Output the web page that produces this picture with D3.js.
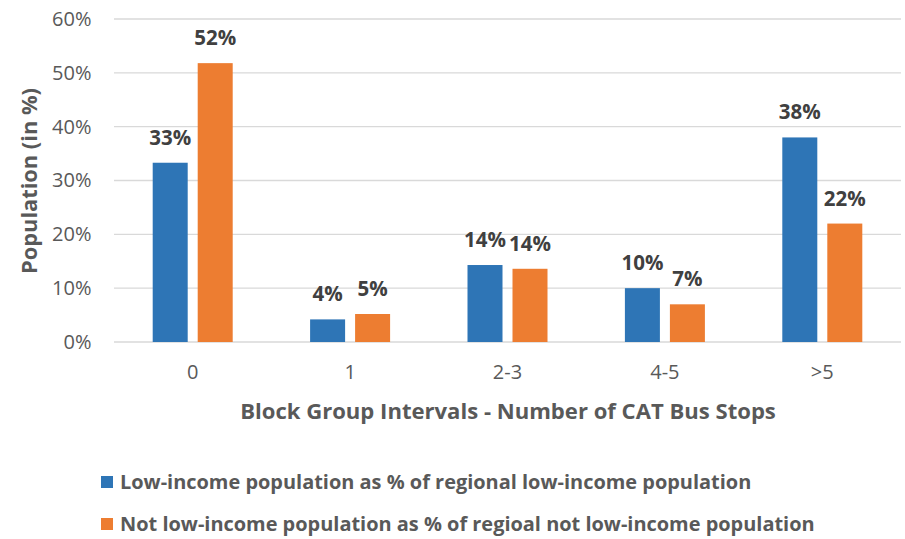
<!DOCTYPE html>
<html>
<head>
<meta charset="utf-8">
<script src="https://cdn.jsdelivr.net/npm/d3@7"></script>
<style>
  html, body { margin: 0; padding: 0; background: #fff; }
  svg { display: block; font-family: "Open Sans", "Noto Sans", sans-serif; }
</style>
</head>
<body>
<svg id="chart" width="905" height="539"></svg>
<script>
const categories = ["0", "1", "2-3", "4-5", ">5"];
const seriesNames = [
  "Low-income population as % of regional low-income population",
  "Not low-income population as % of regioal not low-income population"
];
const lowIncome = [33.3, 4.2, 14.3, 10.0, 38.0];
const notLowIncome = [51.8, 5.2, 13.6, 7.0, 22.0];
const dataLabelsLow = ["33%", "4%", "14%", "10%", "38%"];
const dataLabelsNot = ["52%", "5%", "14%", "7%", "22%"];
const yTicks = [0, 10, 20, 30, 40, 50, 60];
const colors = ["#2e75b6", "#ed7d31"];

const svg = d3.select("#chart");
const mLeft = 114, mRight = 901, mTop = 19, mBottom = 342;

const x0 = d3.scaleBand().domain(categories).range([mLeft, mRight]).paddingInner(0).paddingOuter(0);
const x1 = d3.scaleBand().domain([0, 1]).range([-40, 40]).paddingInner(0.2222).paddingOuter(0);
const y = d3.scaleLinear().domain([0, 60]).range([mBottom, mTop]);

function fit(sel, width) {
  const n = sel.node();
  const fs = parseFloat(sel.attr("font-size"));
  const w = n.getComputedTextLength();
  sel.attr("font-size", (fs * width / w).toFixed(2));
}

// gridlines
svg.append("g").selectAll("line").data(yTicks).join("line")
  .attr("x1", mLeft).attr("x2", mRight)
  .attr("y1", d => y(d)).attr("y2", d => y(d))
  .attr("stroke", "#d9d9d9").attr("stroke-width", 1.3);

// y axis labels
const yAxis = svg.append("g").attr("transform", `translate(${mLeft},0)`)
  .call(d3.axisLeft(y).tickValues(yTicks).tickFormat(d => d + "%").tickSize(0).tickPadding(22.5));
yAxis.select(".domain").remove();
yAxis.selectAll("text").attr("font-size", 20).attr("fill", "#595959")
  .attr("font-family", '"Open Sans", sans-serif');

// x axis labels
const xAxis = svg.append("g").attr("transform", `translate(0,${mBottom})`)
  .call(d3.axisBottom(x0).tickSize(0).tickPadding(23));
xAxis.select(".domain").remove();
xAxis.selectAll("text").attr("font-size", 20).attr("fill", "#595959")
  .attr("font-family", '"Open Sans", sans-serif');

// bars
const seriesVals = [lowIncome, notLowIncome];
const seriesLabels = [dataLabelsLow, dataLabelsNot];
const rows = [];
categories.forEach((c, i) => {
  [0, 1].forEach(s => rows.push({ c, s, v: seriesVals[s][i], lab: seriesLabels[s][i] }));
});
const cx = c => x0(c) + x0.bandwidth() / 2;

svg.append("g").selectAll("rect").data(rows).join("rect")
  .attr("x", d => cx(d.c) + x1(d.s))
  .attr("width", x1.bandwidth())
  .attr("y", d => y(d.v))
  .attr("height", d => y(0) - y(d.v))
  .attr("fill", d => colors[d.s]);

svg.append("g").selectAll("text").data(rows).join("text")
  .attr("x", d => cx(d.c) + x1(d.s) + x1.bandwidth() / 2)
  .attr("y", d => y(d.v) - 18)
  .attr("text-anchor", "middle")
  .attr("font-size", 20.5).attr("font-weight", "bold").attr("fill", "#404040")
  .text(d => d.lab);

// axis titles
const yt = svg.append("text")
  .attr("transform", `translate(37,181) rotate(-90)`)
  .attr("text-anchor", "middle")
  .attr("font-size", 20).attr("font-weight", "bold").attr("fill", "#595959")
  .text("Population (in %)");
fit(yt, 186);

const xt = svg.append("text")
  .attr("x", (mLeft + mRight) / 2 + 0.5).attr("y", 419)
  .attr("text-anchor", "middle")
  .attr("font-size", 20).attr("font-weight", "bold").attr("fill", "#595959")
  .text("Block Group Intervals - Number of CAT Bus Stops");
fit(xt, 536);

// legend
const legendY = [482, 524];
const targetW = [632, 695];
const lg = svg.append("g");
seriesNames.forEach((name, i) => {
  lg.append("rect").attr("x", 101).attr("y", legendY[i] - 6).attr("width", 12).attr("height", 12)
    .attr("fill", colors[i]);
  const t = lg.append("text").attr("x", 120).attr("y", legendY[i] + 7)
    .attr("font-size", 19).attr("font-weight", "bold").attr("fill", "#595959")
    .text(name);
  fit(t, targetW[i]);
});
</script>
</body>
</html>
